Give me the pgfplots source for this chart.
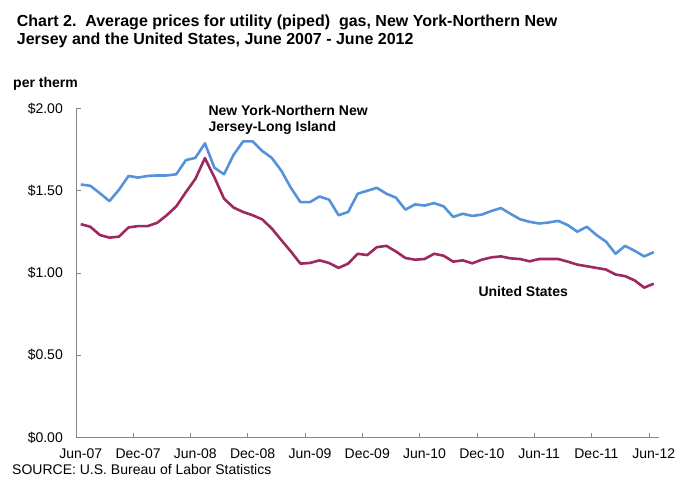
\documentclass[border=0pt]{standalone}
\usepackage{fontspec}
\setmainfont{Liberation Sans}
\usepackage{pgfplots}
\pgfplotsset{compat=1.18}
\definecolor{nyblue}{RGB}{86,146,218}
\definecolor{usred}{RGB}{158,40,96}
\definecolor{axgray}{RGB}{134,134,134}
\begin{document}
\begin{tikzpicture}
\path[use as bounding box] (0pt,0pt) rectangle (682pt,480pt);
\begin{axis}[
  at={(76pt,42.5pt)}, anchor=south west,
  scale only axis, width=582.5pt, height=329pt,
  xmin=-0.5, xmax=60.5, ymin=0, ymax=2,
  axis x line*=bottom, axis y line*=left,
  axis line style={axgray, line width=0.8pt},
  tick align=inside,
  tick style={axgray, line width=0.8pt},
  major tick length=5pt,
  xtick={5.5,11.5,...,59.5},
  xticklabels={},
  extra x ticks={0,6,12,18,24,30,36,42,48,54,60},
  extra x tick labels={Jun-07,Dec-07,Jun-08,Dec-08,Jun-09,Dec-09,Jun-10,Dec-10,Jun-11,Dec-11,Jun-12},
  extra x tick style={major tick length=0pt, xticklabel style={anchor=north, inner sep=0pt, yshift=-11.5pt, font=\fontsize{14}{16}\selectfont}},
  ytick={0,0.5,1,1.5,2},
  yticklabels={\$0.00,\$0.50,\$1.00,\$1.50,\$2.00},
  yticklabel style={anchor=east, inner sep=0pt, xshift=-13pt, font=\fontsize{14}{16}\selectfont},
  clip=false,
]
\addplot[nyblue, line width=2.6pt, line join=round] coordinates {
(0,1.538) (1,1.530) (2,1.485) (3,1.437) (4,1.506) (5,1.590) (6,1.580) (7,1.590) (8,1.593) (9,1.593)
(10,1.600) (11,1.686) (12,1.700) (13,1.788) (14,1.640) (15,1.600) (16,1.718) (17,1.800) (18,1.800) (19,1.742)
(20,1.700) (21,1.622) (22,1.518) (23,1.431) (24,1.431) (25,1.465) (26,1.446) (27,1.351) (28,1.371) (29,1.482)
(30,1.500) (31,1.518) (32,1.482) (33,1.458) (34,1.385) (35,1.417) (36,1.410) (37,1.425) (38,1.405) (39,1.341)
(40,1.360) (41,1.347) (42,1.355) (43,1.377) (44,1.395) (45,1.360) (46,1.327) (47,1.311) (48,1.301) (49,1.307)
(50,1.317) (51,1.291) (52,1.251) (53,1.281) (54,1.231) (55,1.191) (56,1.117) (57,1.165) (58,1.135) (59,1.101)
(60,1.127)};
\addplot[usred, line width=2.6pt, line join=round] coordinates {
(0,1.297) (1,1.281) (2,1.231) (3,1.215) (4,1.221) (5,1.277) (6,1.285) (7,1.285) (8,1.305) (9,1.351)
(10,1.405) (11,1.491) (12,1.572) (13,1.698) (14,1.581) (15,1.452) (16,1.398) (17,1.371) (18,1.351) (19,1.326)
(20,1.271) (21,1.200) (22,1.131) (23,1.057) (24,1.061) (25,1.077) (26,1.061) (27,1.031) (28,1.057) (29,1.117)
(30,1.109) (31,1.157) (32,1.165) (33,1.131) (34,1.091) (35,1.081) (36,1.085) (37,1.117) (38,1.105) (39,1.069)
(40,1.077) (41,1.059) (42,1.081) (43,1.095) (44,1.101) (45,1.089) (46,1.085) (47,1.071) (48,1.085) (49,1.085)
(50,1.085) (51,1.069) (52,1.051) (53,1.041) (54,1.031) (55,1.021) (56,0.991) (57,0.981) (58,0.955) (59,0.911)
(60,0.935)};
\end{axis}
\node[anchor=base west, inner sep=0pt, font=\bfseries\fontsize{16}{18}\selectfont] at (16.7pt,453.3pt) {Chart 2.\ \ Average prices for utility (piped)\ \ gas, New York-Northern New};
\node[anchor=base west, inner sep=0pt, font=\bfseries\fontsize{16}{18}\selectfont] at (16.7pt,435.7pt) {Jersey and the United States, June 2007 - June 2012};
\node[anchor=base west, inner sep=0pt, font=\bfseries\fontsize{14}{16}\selectfont] at (13pt,392pt) {per therm};
\node[anchor=base west, inner sep=0pt, font=\bfseries\fontsize{14}{16}\selectfont] at (208.3pt,364.3pt) {New York-Northern New};
\node[anchor=base west, inner sep=0pt, font=\bfseries\fontsize{14}{16}\selectfont] at (208.3pt,348.3pt) {Jersey-Long Island};
\node[anchor=base west, inner sep=0pt, font=\bfseries\fontsize{14}{16}\selectfont] at (478.3pt,184pt) {United States};
\node[anchor=base west, inner sep=0pt, font=\fontsize{14}{16}\selectfont] at (12pt,6pt) {SOURCE: U.S. Bureau of Labor Statistics};
\end{tikzpicture}
\end{document}
